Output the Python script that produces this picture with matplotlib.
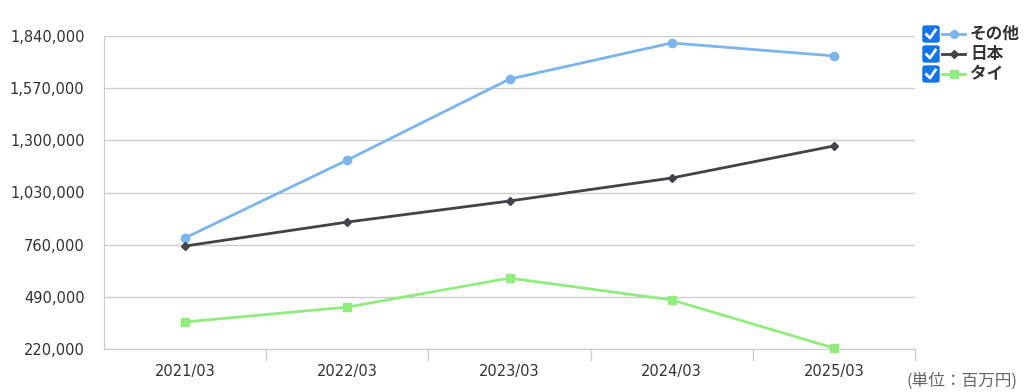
import matplotlib
matplotlib.use("Agg")
import matplotlib.pyplot as plt
from matplotlib.patches import FancyBboxPatch
from matplotlib.lines import Line2D

plt.rcParams['font.family'] = ['DejaVu Sans', 'Noto Sans CJK JP']

categories = ["2021/03", "2022/03", "2023/03", "2024/03", "2025/03"]
series_names = ["その他", "日本", "タイ"]
other_vals = [795000, 1198000, 1617000, 1804000, 1737000]
japan_vals = [753000, 877000, 986000, 1105000, 1271000]
thai_vals = [360000, 437000, 587000, 474000, 225000]
yticks = [220000, 490000, 760000, 1030000, 1300000, 1570000, 1840000]
colors = ["#7cb5ec", "#434348", "#90ed7d"]
markers = ["o", "D", "s"]
msizes = [6, 4.5, 6]

W, H = 1024, 392
fig = plt.figure(figsize=(W/100, H/100), dpi=100)
ax = fig.add_axes([104/W, 1-349/H, (915-104)/W, (349-36)/H])

x = list(range(len(categories)))
for vals, c, m, ms in zip([other_vals, japan_vals, thai_vals], colors, markers, msizes):
    ax.plot(x, vals, color=c, lw=2, marker=m, ms=ms, zorder=3, clip_on=False)

ax.set_xlim(-0.5, len(categories) - 0.5)
ax.set_ylim(yticks[0], yticks[-1])
ax.set_yticks(yticks)
ax.set_yticklabels([f"{v:,}" for v in yticks], fontsize=10.5, color="#333333")
ax.grid(axis="y", color="#cccccc", lw=1)
ax.set_xticks(x)
ax.set_xticklabels(categories, fontsize=10.5, color="#333333")
ax.tick_params(axis="x", length=0, pad=11)
ax.tick_params(axis="y", length=0, pad=14)
# boundary tick marks
for b in [i + 0.5 for i in range(len(categories))]:
    ax.plot([b, b], [0, -0.035], transform=ax.get_xaxis_transform(), color="#cccccc", lw=1, clip_on=False)
for s in ["top", "right"]:
    ax.spines[s].set_visible(False)
ax.spines["left"].set_color("#cccccc")
ax.spines["bottom"].set_color("#cccccc")
ax.set_axisbelow(True)

# legend with checkboxes
ys = [34, 54, 74]
for name, c, m, ms, yp in zip(series_names, colors, markers, msizes, ys):
    bx, by = 923, yp
    box = FancyBboxPatch(((bx)/W, 1-(by+8)/H), 16/W, 16/H, boxstyle="round,pad=0,rounding_size=0.003",
                         transform=fig.transFigure, facecolor="#1473e6", edgecolor="#1473e6")
    fig.add_artist(box)
    fig.add_artist(Line2D([(bx+3.5)/W, (bx+7)/W, (bx+12.5)/W],
                          [1-(by+0.5)/H, 1-(by+4)/H, 1-(by-4)/H],
                          transform=fig.transFigure, color="white", lw=2))
    fig.add_artist(Line2D([942/W, 965/W], [1-by/H, 1-by/H], transform=fig.transFigure,
                          color=c, lw=2, zorder=3))
    fig.add_artist(Line2D([953.5/W], [1-by/H], transform=fig.transFigure,
                          color=c, marker=m, ms=ms - 0.5, lw=0))
    fig.text(970/W, 1-by/H, name, fontsize=12, fontweight="bold", color="#333333",
             va="center", ha="left", family=["Noto Sans CJK JP", "DejaVu Sans"])

fig.text(1018/W, 1-381/H, "(単位：百万円)", fontsize=12, color="#666666",
         ha="right", va="center", family=["Noto Sans CJK JP", "DejaVu Sans"])

fig.savefig("out.png", dpi=100)
